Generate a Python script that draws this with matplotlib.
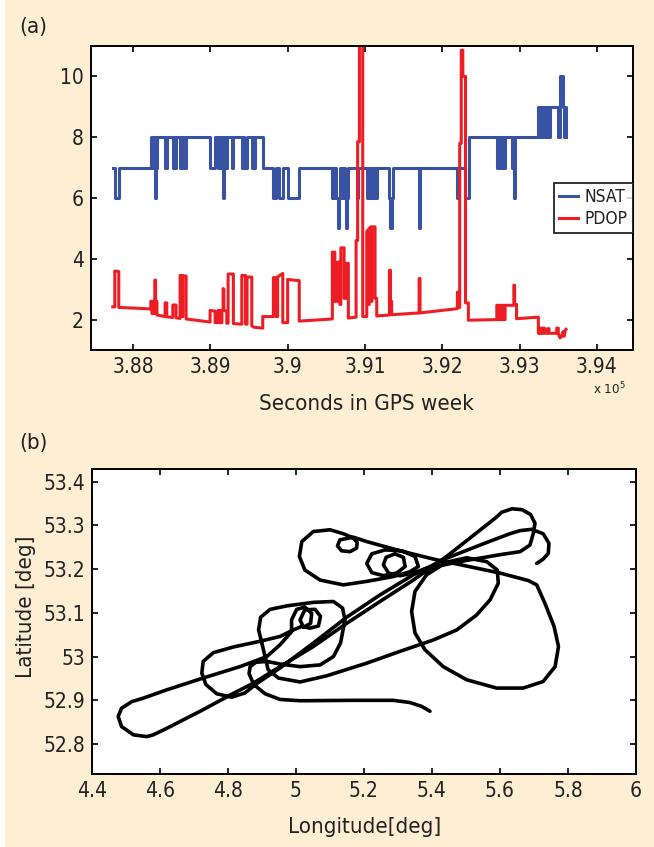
import matplotlib
matplotlib.use("Agg")
import matplotlib.pyplot as plt
from matplotlib import font_manager as fm
from matplotlib.ticker import FuncFormatter, FixedLocator

# pick a condensed sans face if one is installed (reference uses a condensed sans face)
cond = None
best = -1
for f in fm.fontManager.ttflist:
    nm = f.name
    if 'Sans' not in nm or 'Mono' in nm or 'Serif' in nm or 'CJK' in nm:
        continue
    is_cond = ('Narrow' in nm or 'Condensed' in nm or
               str(f.stretch) in ('condensed', 'semi-condensed', 'extra-condensed', '75', '87', '62'))
    if not is_cond or f.style != 'normal':
        continue
    if str(f.weight) not in ('400', 'normal', 'regular', 'book'):
        continue
    score = 2 if 'DejaVu' in nm else (1 if 'Liberation' in nm else 0)
    if score > best:
        best, cond = score, f
if cond is not None:
    plt.rcParams['font.family'] = [cond.name, 'DejaVu Sans']
    plt.rcParams['font.stretch'] = cond.stretch
    FS_TICK, FS_LAB, FS_LEG, FS_EXP = 15, 16, 12.5, 9.5
else:
    plt.rcParams['font.family'] = ['DejaVu Sans']
    FS_TICK, FS_LAB, FS_LEG, FS_EXP = 14, 15, 11.5, 9

# ---------------- data: panel (a) ----------------
nsat_t = [387739, 387765, 387816, 388230, 388240, 388250, 388262, 388270, 388282, 388292,
          388300, 388310, 388415, 388437, 388515, 388525, 388540, 388557, 388609, 388620,
          388632, 388645, 388660, 388687, 388997, 389062, 389100, 389115, 389130, 389150,
          389165, 389175, 389190, 389213, 389277, 389298, 389407, 389420, 389440, 389471,
          389536, 389550, 389565, 389579, 389678, 389816, 389850, 389885, 389937, 390000,
          390150, 390578, 390590, 390600, 390615, 390630, 390645, 390660, 390680, 390700,
          390720, 390740, 390755, 390770, 390785, 390894, 390915, 391023, 391040, 391055,
          391075, 391090, 391110, 391130, 391152, 391316, 391330, 391345, 391360, 391700,
          391712, 392195, 392220, 392290, 392340, 392350, 392705, 392725, 392735, 392747,
          392769, 392790, 392800, 392812, 392898, 392915, 392925, 392935, 392941, 393242,
          393255, 393265, 393280, 393295, 393310, 393330, 393345, 393360, 393380, 393393,
          393492, 393522, 393565, 393580, 393590, 393600]
nsat_v = [7, 6, 7, 8, 7, 8, 7, 8, 6, 8,
          7, 8, 7, 8, 7, 8, 7, 8, 7, 8,
          7, 8, 7, 8, 7, 8, 7, 8, 7, 8,
          6, 8, 7, 8, 7, 8, 7, 8, 7, 8,
          7, 8, 7, 8, 7, 6, 7, 6, 7, 6,
          7, 6, 7, 6, 7, 6, 5, 6, 7, 6,
          7, 6, 5, 6, 7, 6, 7, 6, 7, 6,
          7, 6, 7, 6, 7, 6, 5, 6, 7, 5,
          7, 6, 7, 6, 7, 8, 7, 8, 7, 8,
          7, 8, 7, 8, 7, 8, 6, 7, 8, 9,
          8, 9, 8, 9, 8, 9, 8, 9, 8, 9,
          8, 10, 9, 8, 9, 8]

pdop_pts = [
    (387739, 2.42), (387765, 2.42), (387765, 3.60), (387816, 3.58), (387816, 2.40),
    (388000, 2.38), (388230, 2.35), (388230, 2.60), (388245, 2.60), (388245, 2.20),
    (388255, 2.20), (388255, 2.60), (388275, 2.60), (388275, 2.20), (388282, 2.20),
    (388282, 3.30), (388292, 3.30), (388292, 2.60), (388310, 2.60), (388310, 2.15),
    (388415, 2.10), (388415, 2.55), (388437, 2.55), (388437, 2.09),
    (388515, 2.07), (388515, 2.48), (388557, 2.48), (388557, 2.06),
    (388609, 2.04), (388609, 3.45), (388630, 3.45), (388630, 2.10), (388645, 2.10),
    (388645, 3.45), (388687, 3.43), (388687, 2.02),
    (388997, 1.92), (388997, 2.30), (389062, 2.28), (389062, 1.90),
    (389100, 1.90), (389100, 2.30), (389130, 2.30), (389130, 1.90), (389150, 1.90),
    (389150, 2.30), (389165, 2.30), (389165, 3.02), (389175, 3.00), (389175, 2.30),
    (389213, 2.28), (389213, 1.88), (389230, 1.88), (389230, 3.50), (389298, 3.50),
    (389298, 1.87), (389407, 1.85), (389407, 3.45), (389455, 3.45), (389455, 1.85),
    (389475, 1.85), (389475, 3.40), (389536, 3.40), (389536, 1.80),
    (389560, 1.75), (389678, 1.72), (389678, 2.10), (389816, 2.10), (389816, 3.38),
    (389850, 3.38), (389850, 2.10), (389870, 2.10), (389870, 3.40), (389937, 3.52),
    (389937, 1.90), (390000, 1.90), (390000, 3.32), (390150, 3.28), (390150, 1.95),
    (390578, 2.02), (390578, 4.22), (390610, 4.22), (390610, 2.60), (390645, 2.60),
    (390645, 3.89), (390675, 3.89), (390675, 2.50), (390688, 2.50), (390688, 4.36),
    (390730, 4.36), (390730, 2.70), (390755, 2.70), (390755, 3.85), (390785, 3.85),
    (390785, 2.05), (390885, 2.08), (390885, 4.60), (390905, 4.60), (390905, 7.85),
    (390928, 7.85), (390928, 11.5), (390971, 11.5), (390971, 2.10),
    (391023, 2.10), (391023, 4.90), (391040, 4.95), (391040, 2.50), (391055, 2.50),
    (391055, 5.00), (391075, 5.05), (391075, 2.60), (391090, 2.60), (391090, 5.05),
    (391130, 5.05), (391130, 2.70), (391152, 2.70), (391152, 2.12),
    (391316, 2.15), (391316, 3.62), (391330, 3.62), (391330, 2.60), (391345, 2.60),
    (391345, 2.16), (391700, 2.22), (391700, 3.35), (391712, 3.35), (391712, 2.22),
    (392195, 2.36), (392195, 2.90), (392220, 2.90), (392220, 2.40), (392225, 2.40),
    (392225, 7.80), (392245, 7.80), (392245, 10.86), (392265, 10.86), (392265, 10.0),
    (392300, 10.0), (392300, 2.55), (392337, 2.55), (392337, 1.98),
    (392705, 2.00), (392705, 2.47), (392720, 2.47), (392720, 2.00), (392735, 2.00),
    (392735, 2.47), (392747, 2.47), (392747, 2.00), (392769, 2.00), (392769, 2.47),
    (392790, 2.47), (392790, 2.00), (392812, 2.00), (392812, 2.47), (392898, 2.47),
    (392898, 2.47), (392925, 2.47), (392925, 3.13), (392935, 3.13), (392935, 2.50),
    (392960, 2.50), (392960, 2.03), (393242, 2.08), (393242, 1.55),
    (393260, 1.55), (393260, 1.72), (393275, 1.72), (393275, 1.55), (393300, 1.55),
    (393300, 1.72), (393320, 1.72), (393320, 1.55), (393360, 1.55), (393360, 1.70),
    (393380, 1.70), (393380, 1.55), (393480, 1.55), (393480, 1.72), (393500, 1.72),
    (393500, 1.55), (393522, 1.40), (393545, 1.45), (393560, 1.60), (393575, 1.45),
    (393590, 1.65), (393600, 1.68)]
pdop_t = [p[0] for p in pdop_pts]
pdop_v = [p[1] for p in pdop_pts]

a_xticks = [388000, 389000, 390000, 391000, 392000, 393000, 394000]
a_yticks = [2, 4, 6, 8, 10]

# ---------------- data: panel (b) (one continuous track, lon/lat in degrees) ----------------
track = [
    (5.394, 52.875), (5.370, 52.886), (5.335, 52.895), (5.286, 52.900), (5.169, 52.900),
    (5.012, 52.899), (4.953, 52.902), (4.909, 52.915), (4.876, 52.936), (4.862, 52.961),
    (4.865, 52.977), (4.882, 52.987), (4.914, 52.989),
    (4.953, 52.983), (5.012, 52.977), (5.071, 52.981), (5.110, 53.000), (5.131, 53.031),
    (5.144, 53.084), (5.137, 53.111), (5.110, 53.126), (5.051, 53.124), (4.973, 53.116),
    (4.924, 53.108), (4.896, 53.090), (4.890, 53.061), (4.902, 53.023), (4.911, 52.993),
    (4.918, 52.970), (4.948, 52.951), (5.012, 52.942), (5.090, 52.956),
    (5.208, 52.985), (5.306, 53.012), (5.404, 53.038), (5.473, 53.061),
    (5.531, 53.095), (5.571, 53.130), (5.595, 53.168), (5.592, 53.198), (5.561, 53.217),
    (5.502, 53.226), (5.443, 53.216), (5.384, 53.187), (5.350, 53.149), (5.340, 53.103),
    (5.350, 53.054), (5.379, 53.016), (5.433, 52.977), (5.502, 52.947), (5.590, 52.928),
    (5.668, 52.928), (5.727, 52.943), (5.762, 52.977), (5.772, 53.023), (5.759, 53.069),
    (5.732, 53.122), (5.708, 53.164), (5.683, 53.174),
    (5.600, 53.191), (5.502, 53.207), (5.404, 53.223), (5.306, 53.242), (5.208, 53.263),
    (5.169, 53.273), (5.129, 53.267), (5.122, 53.253), (5.134, 53.242), (5.159, 53.240),
    (5.178, 53.248), (5.180, 53.261), (5.169, 53.271), (5.139, 53.281),
    (5.100, 53.290), (5.051, 53.286), (5.017, 53.263), (5.010, 53.229), (5.026, 53.198),
    (5.071, 53.175), (5.139, 53.164), (5.208, 53.172), (5.286, 53.183), (5.335, 53.194),
    (5.360, 53.206), (5.350, 53.229), (5.311, 53.242), (5.262, 53.244), (5.223, 53.235),
    (5.208, 53.213), (5.223, 53.192), (5.257, 53.185), (5.296, 53.191), (5.321, 53.206),
    (5.316, 53.227), (5.291, 53.235), (5.265, 53.227), (5.257, 53.210), (5.272, 53.191),
    (5.306, 53.185), (5.345, 53.191), (5.384, 53.202),
    (5.502, 53.220), (5.600, 53.233), (5.659, 53.240), (5.688, 53.255), (5.698, 53.282),
    (5.703, 53.305), (5.690, 53.325), (5.665, 53.336), (5.635, 53.338), (5.605, 53.330),
    (5.585, 53.316),
    (5.443, 53.229), (5.345, 53.175), (5.247, 53.126), (5.149, 53.076), (5.051, 53.023),
    (4.953, 52.977), (4.874, 52.939), (4.816, 52.916), (4.718, 52.875), (4.620, 52.836),
    (4.580, 52.821),
    (4.561, 52.817), (4.522, 52.821), (4.487, 52.840), (4.477, 52.863), (4.487, 52.882),
    (4.517, 52.897), (4.551, 52.905),
    (4.620, 52.924), (4.727, 52.951), (4.835, 52.977), (4.914, 53.000), (4.953, 53.027),
    (4.987, 53.057),
    (4.987, 53.084), (5.002, 53.108), (5.026, 53.113), (5.046, 53.099), (5.043, 53.076),
    (5.022, 53.067), (5.012, 53.084), (5.026, 53.107), (5.056, 53.108), (5.072, 53.092),
    (5.066, 53.070), (5.041, 53.065), (5.017, 53.069),
    (4.992, 53.061), (4.953, 53.046), (4.894, 53.035), (4.816, 53.022), (4.757, 53.009),
    (4.727, 52.989), (4.723, 52.962), (4.735, 52.936), (4.767, 52.915), (4.811, 52.907),
    (4.850, 52.917), (4.884, 52.938),
    (4.953, 52.974), (5.051, 53.031), (5.149, 53.090), (5.247, 53.141), (5.345, 53.187),
    (5.443, 53.225), (5.551, 53.258), (5.629, 53.281), (5.659, 53.288), (5.693, 53.291),
    (5.727, 53.281), (5.744, 53.259), (5.742, 53.236), (5.727, 53.223), (5.708, 53.213)]
track_lon = [p[0] for p in track]
track_lat = [p[1] for p in track]

b_xticks = [4.4, 4.6, 4.8, 5.0, 5.2, 5.4, 5.6, 5.8, 6.0]
b_yticks = [52.8, 52.9, 53.0, 53.1, 53.2, 53.3, 53.4]

# ---------------- figure ----------------
W, H = 654, 847
cream = '#FEEED3'
fig = plt.figure(figsize=(W / 100, H / 100), dpi=100)
fig.patch.set_facecolor('white')
fig.add_artist(plt.Rectangle((5 / W, 0), 1 - 5 / W, 1, transform=fig.transFigure,
                             facecolor=cream, edgecolor='none', zorder=-10))


def px_axes(l, t, r, b):
    return fig.add_axes([l / W, 1 - b / H, (r - l) / W, (b - t) / H])


def style(ax):
    for s in ax.spines.values():
        s.set_linewidth(1.4)
        s.set_color('black')
    ax.tick_params(direction='in', length=4.5, width=1.2, top=True, right=True,
                   labelsize=FS_TICK, labelcolor='#222222', pad=5)
    ax.set_facecolor('white')


blue = '#3853A4'
red = '#EE1D23'
txt = '#222222'

ax1 = px_axes(91, 46, 633, 350)
style(ax1)
ax1.plot(nsat_t, nsat_v, drawstyle='steps-post', color=blue, lw=2.2, label='NSAT')
ax1.plot(pdop_t, pdop_v, color=red, lw=2.2, label='PDOP')
ax1.set_xlim(387457, 394466)
ax1.set_ylim(1, 11)
ax1.xaxis.set_major_locator(FixedLocator(a_xticks))
ax1.yaxis.set_major_locator(FixedLocator(a_yticks))
ax1.xaxis.set_major_formatter(FuncFormatter(lambda v, p: f"{v / 1e5:g}"))
ax1.yaxis.set_major_formatter(FuncFormatter(lambda v, p: f"{v:g}"))
leg = ax1.legend(loc='center right', bbox_to_anchor=(1.0, 0.467), fontsize=FS_LEG,
                 frameon=True, fancybox=False, handlelength=1.1, handletextpad=0.4,
                 borderpad=0.3, labelspacing=0.2, borderaxespad=0.0)
leg.get_frame().set_edgecolor('black')
leg.get_frame().set_linewidth(1.4)
for t in leg.get_texts():
    t.set_color(txt)
fig.text(609 / W, 1 - 389 / H, r'x 10$^5$', fontsize=FS_EXP, ha='center', va='center', color=txt)
fig.text(366 / W, 1 - 404 / H, 'Seconds in GPS week', fontsize=FS_LAB, ha='center', va='center', color=txt)
fig.text(33 / W, 1 - 27 / H, '(a)', fontsize=FS_LAB, ha='center', va='center', color=txt)

ax2 = px_axes(92, 469, 636, 774)
style(ax2)
ax2.plot(track_lon, track_lat, color='black', lw=2.6, solid_joinstyle='round',
         solid_capstyle='round')
ax2.set_xlim(4.4, 6.0)
ax2.set_ylim(52.7315, 53.429)
ax2.xaxis.set_major_locator(FixedLocator(b_xticks))
ax2.yaxis.set_major_locator(FixedLocator(b_yticks))
ax2.xaxis.set_major_formatter(FuncFormatter(lambda v, p: f"{round(v, 2):g}"))
ax2.yaxis.set_major_formatter(FuncFormatter(lambda v, p: f"{round(v, 2):g}"))
fig.text(365 / W, 1 - 827 / H, 'Longitude[deg]', fontsize=FS_LAB, ha='center', va='center', color=txt)
fig.text(26 / W, 1 - 607 / H, 'Latitude [deg]', fontsize=FS_LAB, ha='center', va='center',
         rotation=90, color=txt)
fig.text(33 / W, 1 - 443 / H, '(b)', fontsize=FS_LAB, ha='center', va='center', color=txt)

fig.savefig('out.png', dpi=100, facecolor=fig.get_facecolor())
